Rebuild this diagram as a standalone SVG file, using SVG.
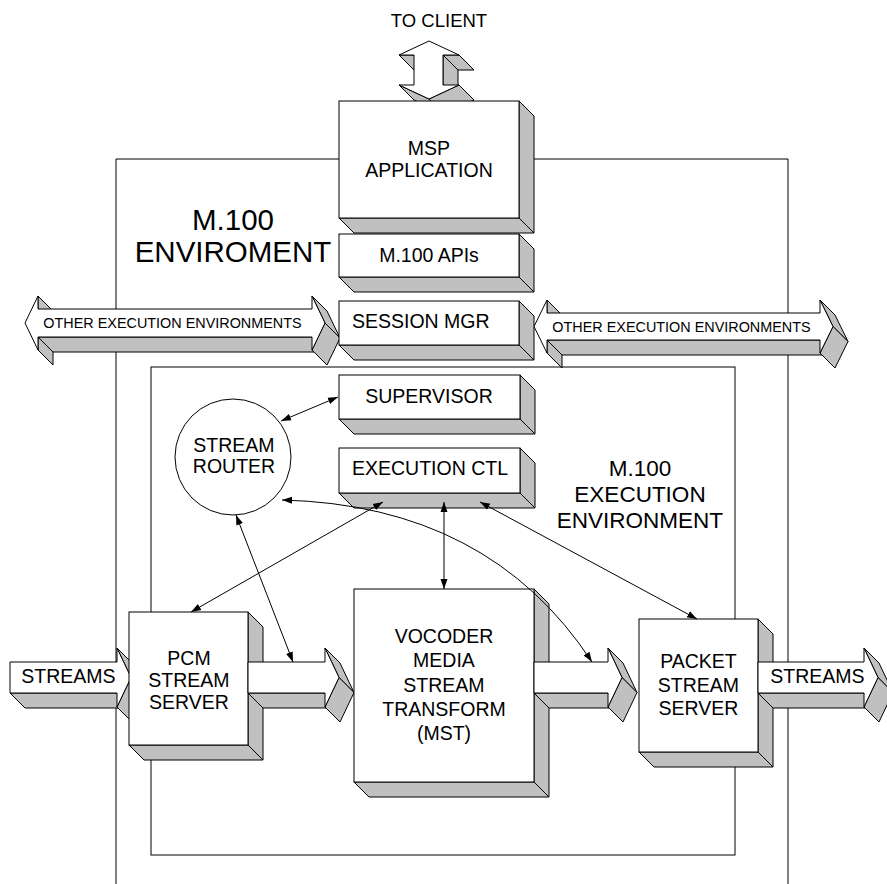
<svg xmlns="http://www.w3.org/2000/svg" width="887" height="884" viewBox="0 0 887 884">
<defs>
<style>
.f{fill:#fff;stroke:#000;stroke-width:1;stroke-linejoin:miter}
.s{fill:#c0c0c0;stroke:#000;stroke-width:1;stroke-linejoin:miter}
.frame{fill:none;stroke:#000;stroke-width:1}
text{font-family:"Liberation Sans",Arial,Helvetica,sans-serif;fill:#000}
.t{font-size:19.5px;text-anchor:middle}
.sm{font-size:14.4px;text-anchor:middle}
.big{font-size:29.5px;text-anchor:middle}
.mid{font-size:22.5px;text-anchor:middle}
.c{fill:none;stroke:#000;stroke-width:1;marker-start:url(#ah);marker-end:url(#ah)}
</style>
<marker id="ah" viewBox="0 0 10 10" refX="10" refY="5" markerWidth="10" markerHeight="10" markerUnits="userSpaceOnUse" orient="auto-start-reverse">
<path d="M0,1.5 L10,5 L0,8.5 z" fill="#000"/>
</marker>
</defs>
<rect width="887" height="884" fill="#fff"/>

<g id="m100-environment">
<path class="frame" d="M116,884 V159 H788 V884"/>
<text class="big" x="233" y="230">M.100</text>
<text class="big" x="233" y="262">ENVIROMENT</text>
</g>

<g id="m100-execution-environment">
<rect class="frame" x="151" y="367" width="584" height="488"/>
<text class="mid" x="640" y="476">M.100</text>
<text class="mid" x="640" y="502">EXECUTION</text>
<text class="mid" x="640" y="528">ENVIRONMENT</text>
</g>

<g id="to-client">
<text x="439" y="27" style="font-size:18.5px;text-anchor:middle">TO CLIENT</text>
<polygon class="s" points="459,55 443,55 458,70 474,70"/>
<polygon class="s" points="443,55 443,85 458,100 458,70"/>
<polygon class="s" points="459,85 429,99 444,114 474,100"/>
<polygon class="s" points="429,99 399,85 414,100 444,114"/>
<polygon class="s" points="414,55 399,55 414,70 429,70"/>
<polygon class="f" points="429,41 459,55 443,55 443,85 459,85 429,99 399,85 414,85 414,55 399,55"/>
</g>

<g id="msp-application">
<polygon class="s" points="519,101 534,116 534,233 519,218"/>
<polygon class="s" points="339,218 519,218 534,233 354,233"/>
<rect class="f" x="339" y="101" width="180" height="117"/>
<text class="t" x="429" y="155">MSP</text>
<text class="t" x="429" y="177">APPLICATION</text>
</g>

<g id="m100-apis">
<polygon class="s" points="519,234 534,249 534,292 519,277"/>
<polygon class="s" points="339,277 519,277 534,292 354,292"/>
<rect class="f" x="339" y="234" width="180" height="43"/>
<text class="t" x="429" y="262">M.100 APIs</text>
</g>

<g id="other-env-left">
<polygon class="s" points="38,296 38,309 53,324 53,311"/>
<polygon class="s" points="312,337 38,337 53,352 327,352"/>
<polygon class="s" points="38,337 38,350 53,365 53,352"/>
<polygon class="s" points="312,296 325,323 340,338 327,311"/>
<polygon class="s" points="325,323 312,350 327,365 340,338"/>
<polygon class="f" points="25,323 38,296 38,309 312,309 312,296 325,323 312,350 312,337 38,337 38,350"/>
<text class="sm" x="172.5" y="328">OTHER EXECUTION ENVIRONMENTS</text>
</g>

<g id="other-env-right">
<polygon class="s" points="547,300 547,313 562,328 562,315"/>
<polygon class="s" points="820,340 547,340 562,355 835,355"/>
<polygon class="s" points="547,340 547,353 562,368 562,355"/>
<polygon class="s" points="820,300 833,326.5 848,341.5 835,315"/>
<polygon class="s" points="833,326.5 820,353 835,368 848,341.5"/>
<polygon class="f" points="534,326.5 547,300 547,313 820,313 820,300 833,326.5 820,353 820,340 547,340 547,353"/>
<text class="sm" x="681.5" y="331.5">OTHER EXECUTION ENVIRONMENTS</text>
</g>

<g id="session-mgr">
<polygon class="s" points="519,301 534,316 534,360 519,345"/>
<polygon class="s" points="339,345 519,345 534,360 354,360"/>
<rect class="f" x="339" y="301" width="180" height="44"/>
<text x="352" y="328" style="font-size:19.5px">SESSION MGR</text>
</g>

<g id="supervisor">
<polygon class="s" points="520,375 535,390 535,434 520,419"/>
<polygon class="s" points="339,419 520,419 535,434 354,434"/>
<rect class="f" x="339" y="375" width="181" height="44"/>
<text class="t" x="429" y="403">SUPERVISOR</text>
</g>

<g id="execution-ctl">
<polygon class="s" points="520,448 535,463 535,508 520,493"/>
<polygon class="s" points="339,493 520,493 535,508 354,508"/>
<rect class="f" x="339" y="448" width="181" height="45"/>
<text class="t" x="430" y="475">EXECUTION CTL</text>
</g>

<g id="stream-router">
<circle class="f" cx="233" cy="457" r="58"/>
<text class="t" x="234" y="452">STREAM</text>
<text class="t" x="234" y="473">ROUTER</text>
</g>

<g id="streams-in">
<polygon class="s" points="117,693 10,693 25,708 132,708"/>
<polygon class="s" points="117,648 131,677.5 146,692.5 132,663"/>
<polygon class="s" points="131,677.5 117,707 132,722 146,692.5"/>
<polygon class="f" points="10,662 117,662 117,648 131,677.5 117,707 117,693 10,693"/>
<text class="t" x="68.5" y="683">STREAMS</text>
</g>

<g id="pcm-stream-server">
<polygon class="s" points="248,612 263,627 263,760 248,745"/>
<polygon class="s" points="129,745 248,745 263,760 144,760"/>
<rect class="f" x="129" y="612" width="119" height="133"/>
<text class="t" x="189" y="665">PCM</text>
<text class="t" x="189" y="687">STREAM</text>
<text class="t" x="189" y="709">SERVER</text>
</g>

<g id="stream-pcm-to-mst">
<polygon class="s" points="325,693 248,693 263,708 340,708"/>
<polygon class="s" points="325,648 339,677.5 354,692.5 340,663"/>
<polygon class="s" points="339,677.5 325,707 340,722 354,692.5"/>
<polygon class="f" points="248,662 325,662 325,648 339,677.5 325,707 325,693 248,693"/>
</g>

<g id="vocoder-mst">
<polygon class="s" points="534,589 549,604 549,797 534,782"/>
<polygon class="s" points="354,782 534,782 549,797 369,797"/>
<rect class="f" x="354" y="589" width="180" height="193"/>
<text class="t" x="444" y="643">VOCODER</text>
<text class="t" x="444" y="667">MEDIA</text>
<text class="t" x="444" y="692">STREAM</text>
<text class="t" x="444" y="716">TRANSFORM</text>
<text class="t" x="444" y="740">(MST)</text>
</g>

<g id="stream-mst-to-packet">
<polygon class="s" points="608,693 534,693 549,708 623,708"/>
<polygon class="s" points="608,648 622,677.5 637,692.5 623,663"/>
<polygon class="s" points="622,677.5 608,707 623,722 637,692.5"/>
<polygon class="f" points="534,662 608,662 608,648 622,677.5 608,707 608,693 534,693"/>
</g>

<g id="packet-stream-server">
<polygon class="s" points="758,619 773,634 773,767 758,752"/>
<polygon class="s" points="639,752 758,752 773,767 654,767"/>
<rect class="f" x="639" y="619" width="119" height="133"/>
<text class="t" x="698.5" y="668">PACKET</text>
<text class="t" x="698.5" y="692">STREAM</text>
<text class="t" x="698.5" y="715">SERVER</text>
</g>

<g id="streams-out">
<polygon class="s" points="864,693 758,693 773,708 879,708"/>
<polygon class="s" points="864,648 878,677.5 893,692.5 879,663"/>
<polygon class="s" points="878,677.5 864,707 879,722 893,692.5"/>
<polygon class="f" points="758,662 864,662 864,648 878,677.5 864,707 864,693 758,693"/>
<text class="t" x="817.5" y="683">STREAMS</text>
</g>

<g id="connectors">
<path class="c" d="M281,421 L338,397"/>
<path class="c" d="M383,502 L191,612"/>
<path class="c" d="M444,502 L444,589"/>
<path class="c" d="M480,502 L697,619"/>
<path class="c" d="M236,515 L293,662"/>
<path class="c" d="M282,500 Q489,505 592,662"/>
</g>
</svg>
